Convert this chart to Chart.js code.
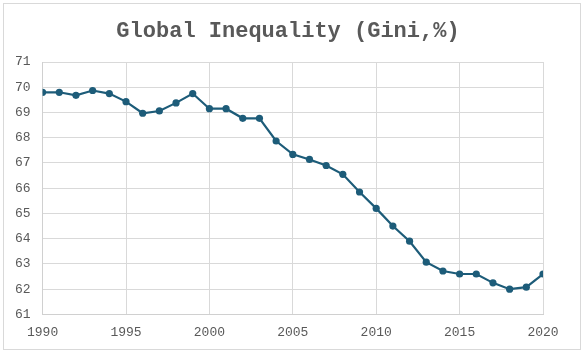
<!DOCTYPE html>
<html>
<head>
<meta charset="utf-8">
<script src="https://cdn.jsdelivr.net/npm/chart.js@4/dist/chart.umd.min.js"></script>
<style>
html,body{margin:0;padding:0;background:#fff;}
#wrap{position:relative;width:584px;height:354px;}
</style>
</head>
<body>
<div id="wrap"><canvas id="c" width="584" height="354"></canvas></div>
<script>
const years = [1990,1991,1992,1993,1994,1995,1996,1997,1998,1999,2000,2001,2002,2003,2004,2005,2006,2007,2008,2009,2010,2011,2012,2013,2014,2015,2016,2017,2018,2019,2020];
const gini = [69.8,69.8,69.68,69.87,69.75,69.43,68.97,69.06,69.38,69.75,69.15,69.15,68.77,68.77,67.87,67.34,67.14,66.9,66.55,65.85,65.2,64.5,63.9,63.07,62.72,62.6,62.6,62.25,62.0,62.08,62.6];
const titleText = 'Global Inequality (Gini,%)';

const decorPlugin = {
  id: 'decor',
  afterDraw(chart) {
    const ctx = chart.ctx;
    ctx.save();
    ctx.strokeStyle = '#d9d9d9';
    ctx.lineWidth = 1;
    ctx.strokeRect(3.5, 3.5, 577, 346);
    ctx.fillStyle = '#595959';
    ctx.font = 'bold 22px "Liberation Mono"';
    ctx.textAlign = 'center';
    ctx.textBaseline = 'alphabetic';
    ctx.fillText(titleText, 288, 36.5);
    ctx.restore();
  }
};

new Chart(document.getElementById('c'), {
  type: 'line',
  data: {
    datasets: [{
      data: years.map((y, i) => ({x: y, y: gini[i]})),
      borderColor: '#1d5c79',
      backgroundColor: '#1d5c79',
      borderWidth: 2.2,
      pointRadius: 3.6,
      pointBorderWidth: 0,
      tension: 0
    }]
  },
  options: {
    responsive: false,
    animation: false,
    devicePixelRatio: 1,
    layout: {padding: {left: 3, right: 41, top: 62, bottom: 4}},
    plugins: {
      legend: {display: false},
      tooltip: {enabled: false},
      title: {display: false}
    },
    scales: {
      x: {
        type: 'linear',
        min: 1990, max: 2020,
        ticks: {stepSize: 5, color: '#595959', padding: 10, font: {family: 'Liberation Mono', size: 13}, callback: v => String(v)},
        grid: {color: '#d9d9d9', lineWidth: 1, drawTicks: false},
        border: {color: '#d0d0d0'}
      },
      y: {
        min: 61, max: 71,
        ticks: {stepSize: 1, color: '#595959', padding: 12, font: {family: 'Liberation Mono', size: 13}},
        grid: {color: '#d9d9d9', lineWidth: 1, drawTicks: false},
        border: {color: '#d0d0d0'}
      }
    }
  },
  plugins: [decorPlugin]
});
</script>
</body>
</html>
